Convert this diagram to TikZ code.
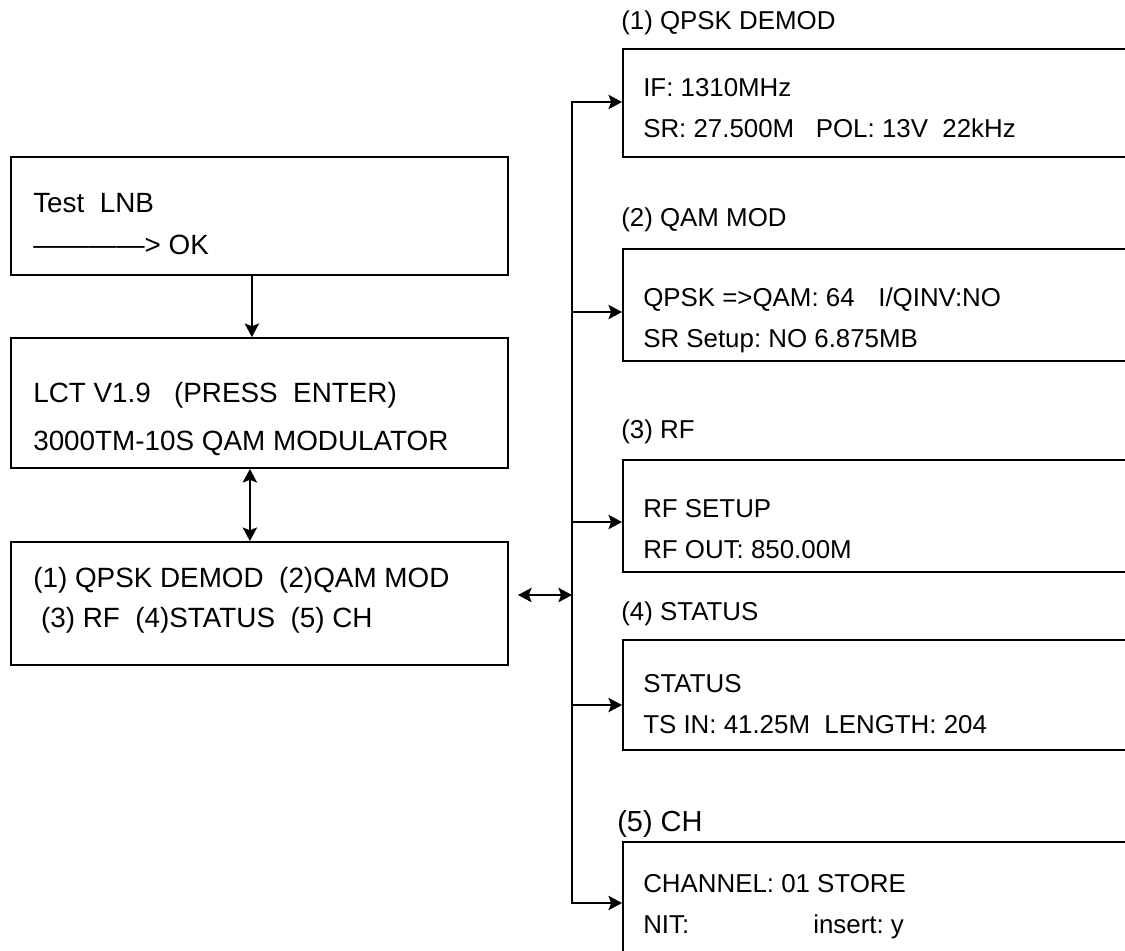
\documentclass[tikz,border=0pt]{standalone}
\usepackage{fontspec}
\setmainfont{Liberation Sans}
\usepackage{tikz}
\usetikzlibrary{arrows.meta,positioning,calc}

\tikzset{
  scrbox/.style={draw, line width=1.3pt, rectangle, inner sep=0pt},
  lbox/.style={scrbox, minimum width=12.425cm},
  rbox/.style={scrbox, minimum width=12.925cm},
  ltxt/.style={anchor=west, align=left, inner sep=0pt, font=\fontsize{19.8}{29.9}\selectfont},
  rtxt/.style={anchor=west, align=left, inner sep=0pt, font=\fontsize{18.4}{29.2}\selectfont},
  menulbl/.style={anchor=west, inner sep=0pt, font=\fontsize{18.4}{22}\selectfont},
  arr/.style={line width=1.3pt, -{Stealth[length=0.34cm, width=0.36cm, inset=0.07cm]}},
  dblarr/.style={line width=1.3pt, {Stealth[length=0.34cm, width=0.36cm, inset=0.07cm]}-{Stealth[length=0.34cm, width=0.36cm, inset=0.07cm]}}
}

\begin{document}
\frenchspacing
\begin{tikzpicture}[x=0.025cm, y=-0.025cm]
    \useasboundingbox (0,0) rectangle (1125,950);
    \clip (0,0) rectangle (1125,950);
    % left column: start screens
    \node[lbox, minimum height=2.95cm] (lnb) at (259.5,216) {};
    \node[ltxt] (lnb-txt) at (33,224) {Test\ \ LNB\\————> OK};
    \node[lbox, minimum height=3.25cm] (lct) at (259.5,403) {};
    \node[ltxt, font=\fontsize{19.8}{34}\selectfont] (lct-txt) at (33,419) {LCT V1.9\ \ \ (PRESS\ \ ENTER)\\3000TM-10S QAM MODULATOR};
    \node[lbox, minimum height=3.075cm] (menu) at (259.5,603.5) {};
    \node[ltxt, font=\fontsize{19.8}{28.5}\selectfont] (menu-txt) at (33,600) {(1) QPSK DEMOD\ \ (2)QAM MOD\\\ (3) RF\ \ (4)STATUS\ \ (5) CH};
    % right column: sub menus
    \node[menulbl] (l1) at (621,23) {(1) QPSK DEMOD};
    \node[rbox, minimum height=2.7cm] (r1) at (881.5,103) {};
    \node[rtxt] (r1-txt) at (643,108) {IF: 1310MHz\\SR: 27.500M\ \ \ POL: 13V\ \ 22kHz};
    \node[menulbl] (l2) at (621,220) {(2) QAM MOD};
    \node[rbox, minimum height=2.8cm] (r2) at (881.5,305) {};
    \node[rtxt] (r2-txt) at (643,320) {\makebox[5.875cm][l]{QPSK =>QAM: 64}I/QINV:NO\\SR Setup: NO 6.875MB};
    \node[menulbl] (l3) at (621,432) {(3) RF};
    \node[rbox, minimum height=2.8cm] (r3) at (881.5,516) {};
    \node[rtxt] (r3-txt) at (643,529) {RF SETUP\\RF OUT: 850.00M};
    \node[menulbl] (l4) at (621,614) {(4) STATUS};
    \node[rbox, minimum height=2.75cm] (r4) at (881.5,695) {};
    \node[rtxt] (r4-txt) at (643,704) {STATUS\\TS IN: 41.25M\ \ LENGTH: 204};
    \node[menulbl, font=\fontsize{20.6}{24}\selectfont] (l5) at (617,824) {(5) CH};
    \node[rbox, minimum height=3.95cm] (r5) at (881.5,921) {};
    \node[rtxt] (r5-txt) at (643,907) {CHANNEL: 01 STORE\\\makebox[4.25cm][l]{NIT:}insert: y};
    % connectors
    \coordinate (hub) at (572,595);
    \draw[arr] ([xshift=-0.19cm]lnb.south) -- ([xshift=-0.19cm]lnb.south |- lct.north);
    \draw[dblarr] ([xshift=-0.24cm]lct.south) -- ([xshift=-0.24cm]lct.south |- menu.north);
    \draw[dblarr] ([xshift=0.225cm]menu.east |- hub) -- (hub);
    \foreach \n/\s in {r1/0.025,r2/-0.175,r3/-0.15,r4/-0.25,r5/0.45}
      \draw[arr] (hub) |- ([yshift=\s cm]\n.west);
\end{tikzpicture}
\end{document}
